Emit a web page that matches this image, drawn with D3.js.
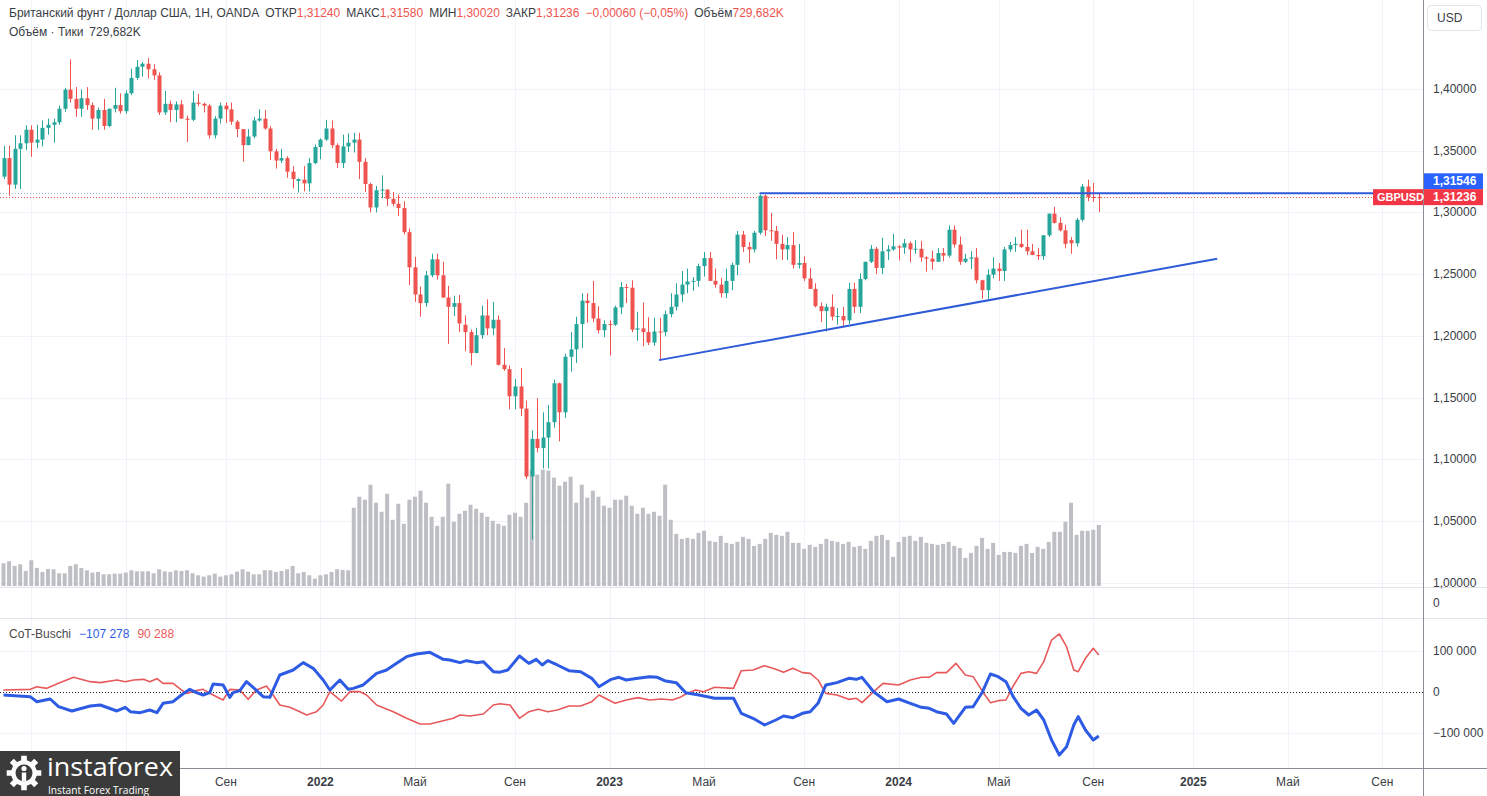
<!DOCTYPE html>
<html><head><meta charset="utf-8">
<script src="https://cdn.jsdelivr.net/npm/d3@7/dist/d3.min.js"></script>
<style>
html,body{margin:0;padding:0;background:#fff;overflow:hidden;}
svg{display:block;font-family:"Liberation Sans",Arial,sans-serif;}
</style></head><body>
<svg id="chart" width="1487" height="796"></svg>
<script>
// ---------------- DATA ----------------
const firstWeek = "2020-11-30"; // Monday of first weekly bar
const opens = [
1.3290,1.3440,1.3225,1.3515,1.3560,1.3670,1.3565,1.3590,1.3685,1.3710,
1.3730,1.3840,1.3995,1.3920,1.3840,1.3925,1.3870,1.3760,1.3830,1.3700,
1.3840,1.3870,1.3820,1.3965,1.4090,1.4180,1.4205,1.4160,1.4110,1.3810,
1.3880,1.3830,1.3875,1.3760,1.3750,1.3890,1.3880,1.3865,1.3625,1.3760,
1.3865,1.3835,1.3735,1.3675,1.3545,1.3615,1.3745,1.3760,1.3680,1.3495,
1.3420,1.3440,1.3330,1.3255,1.3265,1.3235,1.3400,1.3530,1.3590,1.3680,
1.3545,1.3400,1.3535,1.3565,1.3590,1.3410,1.3230,1.3040,1.3180,1.3185,
1.3110,1.3070,1.3035,1.2840,1.2555,1.2335,1.2265,1.2490,1.2620,1.2490,
1.2310,1.2235,1.2265,1.2090,1.2030,1.1860,1.2005,1.2165,1.2060,1.2130,
1.1765,1.1730,1.1510,1.1590,1.1410,1.0860,1.1165,1.1090,1.1175,1.1300,
1.1615,1.1380,1.1830,1.1890,1.2095,1.2285,1.2265,1.2140,1.2045,1.2095,
1.2090,1.2230,1.2395,1.2390,1.2050,1.2060,1.2030,1.1945,1.2035,1.2030,
1.2175,1.2235,1.2335,1.2415,1.2440,1.2445,1.2565,1.2630,1.2445,1.2415,
1.2345,1.2445,1.2575,1.2820,1.2720,1.2700,1.2835,1.3135,1.2855,1.2850,
1.2745,1.2700,1.2735,1.2575,1.2590,1.2465,1.2380,1.2240,1.2200,1.2235,
1.2155,1.2160,1.2125,1.2380,1.2235,1.2460,1.2600,1.2705,1.2550,1.2685,
1.2700,1.2725,1.2715,1.2750,1.2700,1.2705,1.2635,1.2625,1.2600,1.2670,
1.2650,1.2860,1.2740,1.2600,1.2625,1.2635,1.2450,1.2370,1.2495,1.2545,
1.2525,1.2700,1.2735,1.2745,1.2720,1.2685,1.2655,1.2645,1.2815,1.2990,
1.2915,1.2855,1.2775,1.2750,1.2940,1.3210,1.3125,1.3124];
const highs = [
1.3540,1.3540,1.3625,1.3625,1.3705,1.3705,1.3710,1.3745,1.3760,1.3760,
1.3865,1.4010,1.4240,1.4015,1.3995,1.4015,1.3890,1.3850,1.3920,1.3840,
1.4010,1.3965,1.3990,1.4165,1.4235,1.4220,1.4250,1.4200,1.4135,1.3985,
1.3905,1.3900,1.3910,1.3785,1.3985,1.3960,1.3890,1.3880,1.3780,1.3890,
1.3890,1.3890,1.3750,1.3675,1.3675,1.3775,1.3835,1.3830,1.3700,1.3515,
1.3515,1.3455,1.3375,1.3275,1.3375,1.3440,1.3550,1.3600,1.3750,1.3745,
1.3560,1.3630,1.3640,1.3645,1.3645,1.3440,1.3240,1.3215,1.3300,1.3185,
1.3165,1.3145,1.3090,1.2870,1.2640,1.2400,1.2525,1.2665,1.2665,1.2600,
1.2405,1.2325,1.2330,1.2165,1.2050,1.2065,1.2245,1.2295,1.2275,1.2165,
1.1900,1.1760,1.1650,1.1740,1.1475,1.1235,1.1495,1.1380,1.1440,1.1645,
1.1620,1.1855,1.2030,1.2155,1.2345,1.2345,1.2445,1.2240,1.2125,1.2125,
1.2245,1.2435,1.2420,1.2450,1.2195,1.2270,1.2150,1.2145,1.2145,1.2205,
1.2345,1.2425,1.2525,1.2545,1.2475,1.2585,1.2680,1.2680,1.2545,1.2470,
1.2545,1.2595,1.2850,1.2850,1.2760,1.2850,1.3145,1.3145,1.2995,1.2890,
1.2820,1.2800,1.2840,1.2745,1.2645,1.2550,1.2425,1.2270,1.2260,1.2335,
1.2225,1.2235,1.2430,1.2430,1.2505,1.2600,1.2735,1.2720,1.2795,1.2735,
1.2825,1.2735,1.2785,1.2765,1.2775,1.2770,1.2645,1.2690,1.2710,1.2710,
1.2895,1.2895,1.2805,1.2665,1.2685,1.2710,1.2455,1.2540,1.2635,1.2590,
1.2720,1.2760,1.2800,1.2860,1.2860,1.2745,1.2710,1.2815,1.2990,1.3045,
1.2960,1.2900,1.2800,1.2955,1.3230,1.3265,1.3240,1.3158];
const lows = [
1.3270,1.3135,1.3190,1.3190,1.3505,1.3450,1.3520,1.3535,1.3630,1.3565,
1.3710,1.3815,1.3890,1.3775,1.3775,1.3830,1.3670,1.3670,1.3670,1.3690,
1.3810,1.3800,1.3800,1.3950,1.4075,1.4100,1.4085,1.4075,1.3790,1.3790,
1.3730,1.3730,1.3760,1.3570,1.3740,1.3860,1.3810,1.3600,1.3600,1.3720,
1.3725,1.3710,1.3610,1.3410,1.3545,1.3600,1.3735,1.3670,1.3425,1.3355,
1.3400,1.3280,1.3195,1.3160,1.3170,1.3170,1.3390,1.3430,1.3580,1.3520,
1.3360,1.3360,1.3490,1.3485,1.3270,1.3165,1.3000,1.3000,1.3115,1.3050,
1.3050,1.2970,1.2820,1.2410,1.2275,1.2155,1.2235,1.2475,1.2455,1.2310,
1.1935,1.2160,1.2030,1.1875,1.1760,1.1860,1.1975,1.2005,1.2005,1.1760,
1.1715,1.1405,1.1405,1.1350,1.0840,1.0350,1.1055,1.0925,1.0925,1.1255,
1.1145,1.1335,1.1710,1.1780,1.1900,1.2105,1.2110,1.2020,1.1990,1.1840,
1.2080,1.2175,1.2265,1.2030,1.1960,1.1915,1.1925,1.1920,1.1800,1.1995,
1.2150,1.2205,1.2275,1.2345,1.2365,1.2400,1.2480,1.2445,1.2390,1.2310,
1.2305,1.2370,1.2490,1.2680,1.2590,1.2675,1.2820,1.2810,1.2770,1.2620,
1.2615,1.2615,1.2545,1.2545,1.2445,1.2380,1.2230,1.2110,1.2035,1.2125,
1.2090,1.2070,1.2095,1.2185,1.2185,1.2450,1.2590,1.2500,1.2500,1.2615,
1.2690,1.2610,1.2665,1.2595,1.2665,1.2600,1.2520,1.2535,1.2600,1.2605,
1.2635,1.2715,1.2575,1.2590,1.2540,1.2425,1.2300,1.2300,1.2465,1.2445,
1.2445,1.2680,1.2680,1.2710,1.2655,1.2655,1.2615,1.2615,1.2800,1.2910,
1.2845,1.2710,1.2665,1.2725,1.2925,1.3090,1.3085,1.3002];
const closes = [
1.3440,1.3225,1.3515,1.3560,1.3670,1.3565,1.3590,1.3685,1.3710,1.3730,
1.3840,1.3995,1.3920,1.3840,1.3925,1.3870,1.3760,1.3830,1.3700,1.3840,
1.3870,1.3820,1.3965,1.4090,1.4180,1.4205,1.4160,1.4110,1.3810,1.3880,
1.3830,1.3875,1.3760,1.3750,1.3890,1.3880,1.3865,1.3625,1.3760,1.3865,
1.3835,1.3735,1.3675,1.3545,1.3615,1.3745,1.3760,1.3680,1.3495,1.3420,
1.3440,1.3330,1.3270,1.3270,1.3235,1.3400,1.3530,1.3590,1.3680,1.3545,
1.3400,1.3535,1.3565,1.3590,1.3410,1.3230,1.3040,1.3180,1.3185,1.3110,
1.3070,1.3035,1.2840,1.2555,1.2335,1.2265,1.2490,1.2620,1.2490,1.2310,
1.2235,1.2265,1.2100,1.2030,1.1860,1.2005,1.2165,1.2060,1.2130,1.1765,
1.1730,1.1510,1.1590,1.1410,1.0860,1.1165,1.1090,1.1175,1.1300,1.1615,
1.1380,1.1830,1.1890,1.2095,1.2285,1.2265,1.2140,1.2045,1.2095,1.2090,
1.2230,1.2395,1.2390,1.2050,1.2060,1.2030,1.1945,1.2035,1.2030,1.2175,
1.2235,1.2335,1.2415,1.2440,1.2445,1.2565,1.2630,1.2445,1.2415,1.2345,
1.2445,1.2575,1.2820,1.2720,1.2700,1.2835,1.3135,1.2855,1.2850,1.2745,
1.2700,1.2735,1.2575,1.2590,1.2465,1.2380,1.2240,1.2200,1.2235,1.2155,
1.2160,1.2125,1.2380,1.2235,1.2460,1.2600,1.2705,1.2550,1.2685,1.2700,
1.2725,1.2715,1.2750,1.2700,1.2705,1.2635,1.2625,1.2600,1.2670,1.2650,
1.2860,1.2740,1.2600,1.2625,1.2635,1.2450,1.2370,1.2495,1.2545,1.2525,
1.2700,1.2735,1.2745,1.2720,1.2685,1.2655,1.2645,1.2815,1.2990,1.2915,
1.2855,1.2745,1.2750,1.2940,1.3210,1.3125,1.3120,1.31236];
// weekly tick volume, thousands of ticks
const volumes = [
272,296,240,260,180,308,216,168,204,200,152,152,240,260,216,188,160,168,140,140,
148,148,160,188,176,176,176,152,200,176,168,188,180,188,152,128,112,128,148,112,
128,140,172,200,172,140,140,188,188,168,180,200,240,152,168,128,88,128,140,168,
200,192,188,
936,1068,1032,1212,996,888,1104,792,984,744,1032,1068,1140,996,828,720,828,1224,768,864,
900,972,924,876,828,780,744,720,852,876,828,996,1392,1332,1392,1380,1296,1200,1248,1308,
996,1212,1056,1140,1068,960,936,1032,1032,1080,960,864,936,864,888,840,
1212,792,624,564,576,564,636,660,540,528,600,516,504,528,588,564,480,504,564,636,
612,600,648,516,516,444,492,468,504,564,540,528,504,528,468,480,444,540,600,612,
552,348,528,588,600,540,588,516,504,492,504,528,480,456,336,396,480,576,444,516,
372,408,408,396,480,504,396,468,444,528,648,648,768,996,612,660,660,672,729.682];
// CoT-Buschi indicator, [week number, value in thousands]
const cotBlue = [[0,-7.3],[4.8,-11.4],[6.0,-23.6],[8.4,-17.1],[9.9,-35.8],[12.3,-46.3],[15.6,-34.1],[17.4,-31.7],[20.4,-46.3],[21.9,-37.4],[22.8,-48.0],[24.6,-50.4],[26.3,-43.9],[27.6,-50.4],[28.7,-27.6],[30.5,-23.6],[32.0,-7.3],[33.5,6.5],[34.7,-1.6],[35.9,-7.3],[37.1,-1.6],[37.7,19.5],[39.5,17.1],[40.7,-13.0],[41.3,-1.6],[42.5,3.3],[43.7,25.2],[44.9,11.4],[46.7,-11.4],[47.9,-13.0],[49.7,41.5],[52.1,53.7],[53.9,71.6],[55.7,57.7],[57.5,29.3],[58.7,4.9],[60.5,29.3],[62.0,6.5],[62.9,8.9],[64.7,17.1],[67.1,45.5],[68.9,53.7],[70.7,69.9],[72.5,86.2],[74.3,92.7],[76.7,96.7],[79.1,79.7],[80.3,78.0],[82.1,71.6],[83.3,76.4],[85.1,71.6],[86.3,74.0],[88.1,49.6],[89.3,48.4],[90.7,53.7],[92.8,87.8],[94.5,69.9],[95.8,79.7],[96.9,65.9],[97.9,76.4],[99.6,65.9],[101.7,52.0],[103.8,49.6],[105.8,33.3],[107.1,13.0],[109.3,30.9],[110.7,35.8],[112.0,29.3],[114.1,33.3],[116.2,37.4],[117.6,35.8],[118.9,27.6],[121.0,22.8],[122.7,-1.6],[125.1,-7.3],[127.9,-15.4],[131.3,-15.4],[132.7,-52.0],[134.8,-64.2],[136.9,-80.5],[138.9,-68.3],[140.3,-58.5],[142.0,-62.6],[143.7,-52.0],[145.1,-48.0],[146.5,-27.6],[147.9,17.1],[149.9,22.8],[152.0,33.3],[153.4,30.9],[154.4,35.8],[156.5,0.7],[158.9,-23.6],[161.0,-17.1],[163.1,-27.6],[165.1,-37.4],[166.5,-39.8],[167.8,-48.0],[169.6,-53.7],[170.9,-76.4],[173.0,-37.4],[174.4,-35.8],[176.1,0.7],[177.5,43.9],[178.9,37.4],[180.3,25.2],[181.6,-11.4],[183.0,-39.8],[184.4,-56.1],[185.8,-43.9],[187.1,-68.3],[188.5,-117.1],[189.9,-153.7],[191.2,-133.4],[192.5,-80.5],[193.3,-60.2],[194.6,-92.7],[196.0,-117.1],[197,-107.278]];
const cotRed = [[0,4.9],[4.8,6.5],[6.0,13.0],[7.8,8.9],[9.9,21.1],[12.6,35.8],[15.6,25.2],[17.4,22.8],[20.4,29.3],[21.9,25.2],[23.4,29.3],[25.2,30.9],[26.3,25.2],[27.6,32.5],[28.7,21.1],[30.5,21.1],[32.0,4.9],[32.9,-3.3],[34.7,3.3],[35.9,6.5],[37.7,-7.3],[39.5,-19.5],[40.7,6.5],[42.5,4.9],[44.0,-17.9],[45.5,4.9],[47.3,14.6],[48.5,-7.3],[49.7,-31.7],[51.5,-37.4],[53.3,-48.0],[54.5,-56.1],[56.3,-48.0],[57.5,-31.7],[58.7,0.8],[60.8,-22.0],[62.3,0.8],[64.1,0.8],[65.3,-7.3],[67.1,-31.7],[70.1,-48.0],[72.5,-64.2],[74.9,-78.0],[76.7,-78.0],[79.1,-70.0],[80.9,-64.2],[82.1,-56.1],[83.9,-58.5],[86.3,-53.7],[88.1,-31.7],[89.3,-28.5],[91.1,-31.7],[92.8,-64.2],[94.5,-48.0],[96.2,-42.3],[97.9,-48.0],[99.6,-43.9],[101.7,-34.1],[103.8,-34.1],[105.8,-23.6],[107.1,-7.3],[110.0,-27.6],[112.0,-19.5],[114.1,-13.8],[116.2,-19.5],[118.3,-17.1],[120.3,-19.5],[121.7,-13.0],[122.7,-4.9],[124.5,4.9],[125.9,0.8],[127.9,11.4],[131.3,8.9],[132.7,52.0],[134.8,53.7],[136.9,64.2],[138.9,55.3],[140.3,48.0],[142.0,57.8],[143.7,47.2],[145.1,45.5],[146.5,29.3],[147.9,-3.3],[149.9,-7.3],[152.0,-17.9],[153.4,-15.4],[154.4,-26.0],[156.5,0.8],[158.2,21.1],[161.0,17.1],[163.1,29.3],[165.1,35.8],[166.5,35.8],[167.8,47.2],[169.6,47.2],[171.3,69.9],[173.0,41.5],[174.4,37.4],[176.1,0.8],[177.5,-26.0],[178.9,-21.1],[180.3,-19.5],[181.6,14.6],[183.0,45.5],[184.4,49.6],[185.8,45.5],[187.1,73.9],[188.5,126.8],[189.9,141.5],[191.2,110.5],[192.5,53.7],[193.3,49.6],[194.6,82.1],[196.0,106.6],[197,90.288]];
// drawn support / resistance lines [week number, price]
const supportLine = [[117.9,1.1803],[218.3,1.2625]];
const resistLine = [[136,1.31546],[260,1.31546]];
const lastPrice = 1.31236;
const resistPrice = 1.31546;
const priceTicks = [1.00,1.05,1.10,1.15,1.20,1.25,1.30,1.35,1.40];
const cotTicks = [-100,0,100];
const timeTickDates = ["2021-01-04","2021-05-03","2021-09-06","2022-01-03","2022-05-02","2022-09-05","2023-01-02","2023-05-01","2023-09-04","2024-01-01","2024-05-06","2024-09-02","2025-01-06","2025-05-05","2025-09-01"];
const timeTickLabels = ["2021","Май","Сен","2022","Май","Сен","2023","Май","Сен","2024","Май","Сен","2025","Май","Сен"];
const headerParts = [["Британский фунт / Доллар США, 1Н, OANDA","g",0],["ОТКР","g",6],["1,31240","r",0],["МАКС","g",6],["1,31580","r",0],["МИН","g",6],["1,30020","r",0],["ЗАКР","g",6],["1,31236","r",0],["−0,00060 (−0,05%)","r",6],["Объём","g",6],["729,682K","r",0]];

// ---------------- LAYOUT ----------------
const W = 1487, H = 796, plotR = 1423;
const UP = "#26a69a", DN = "#ef5350", GRID = "#f0f3fa", TXT = "#131722";
const svg = d3.select("#chart");
const weekOf = s => (Date.parse(s) - Date.parse(firstWeek)) / (7*864e5);

const x = d3.scaleLinear().domain([0, 197]).range([3.5, 1098.8]);
const yP = d3.scaleLinear().domain([1.0, 1.4]).range([582.6, 89]);
const yV = d3.scaleLinear().domain([0, 729.682]).range([586, 525]);
const yC = d3.scaleLinear().domain([-100, 100]).range([733, 651]);

svg.append("rect").attr("width", W).attr("height", H).attr("fill", "#fff");
const defs = svg.append("defs");
defs.append("clipPath").attr("id", "cp").append("rect").attr("x",0).attr("y",0).attr("width",plotR).attr("height",587);
defs.append("clipPath").attr("id", "cc").append("rect").attr("x",0).attr("y",618).attr("width",plotR).attr("height",150);

// grid
const grid = svg.append("g");
const tickX = timeTickDates.map(weekOf);
grid.selectAll("line.v").data(tickX).join("line")
  .attr("x1", d => Math.round(x(d))+0.5).attr("x2", d => Math.round(x(d))+0.5)
  .attr("y1", 0).attr("y2", 768).attr("stroke", GRID).attr("stroke-width", 1);
grid.selectAll("line.h").data(priceTicks).join("line")
  .attr("x1", 0).attr("x2", plotR).attr("y1", d => Math.round(yP(d))+0.5).attr("y2", d => Math.round(yP(d))+0.5)
  .attr("stroke", GRID);
grid.selectAll("line.c").data(cotTicks.filter(d=>d!==0)).join("line")
  .attr("x1", 0).attr("x2", plotR).attr("y1", d => Math.round(yC(d))+0.5).attr("y2", d => Math.round(yC(d))+0.5)
  .attr("stroke", GRID);

// price pane
const pp = svg.append("g").attr("clip-path", "url(#cp)");
const idx = d3.range(closes.length);
pp.selectAll("rect.vol").data(idx).join("rect")
  .attr("x", i => x(i) - 2).attr("width", 4)
  .attr("y", i => yV(volumes[i])).attr("height", i => yV(0) - yV(volumes[i]))
  .attr("fill", "#bdbfc4");

// dotted price lines
pp.append("line").attr("x1",0).attr("x2",plotR).attr("y1",Math.round(yP(resistPrice))+0.5).attr("y2",Math.round(yP(resistPrice))+0.5)
  .attr("stroke","#b2b5be").attr("stroke-dasharray","1,2");
pp.append("line").attr("x1",0).attr("x2",plotR).attr("y1",Math.round(yP(lastPrice))+0.5).attr("y2",Math.round(yP(lastPrice))+0.5)
  .attr("stroke",DN).attr("stroke-dasharray","1,2");

const cg = pp.append("g");
cg.selectAll("line.wick").data(idx).join("line")
  .attr("x1", i => Math.round(x(i))+0.5).attr("x2", i => Math.round(x(i))+0.5)
  .attr("y1", i => yP(highs[i])).attr("y2", i => yP(lows[i]))
  .attr("stroke", i => closes[i] >= opens[i] ? UP : DN).attr("stroke-width", 1);
cg.selectAll("rect.body").data(idx).join("rect")
  .attr("x", i => Math.round(x(i)) - 1.5).attr("width", 4)
  .attr("y", i => yP(Math.max(opens[i], closes[i])))
  .attr("height", i => Math.max(1, Math.abs(yP(opens[i]) - yP(closes[i]))))
  .attr("fill", i => closes[i] >= opens[i] ? UP : DN);

// drawn lines
const lineP = d3.line().x(d => x(d[0])).y(d => yP(d[1]));
pp.append("path").attr("d", lineP(resistLine)).attr("fill","none").attr("stroke","#2f5bd8").attr("stroke-width",2);
pp.append("path").attr("d", lineP(supportLine)).attr("fill","none").attr("stroke","#2f5bd8").attr("stroke-width",2);

// pane separators
svg.append("line").attr("x1",0).attr("x2",W).attr("y1",587.5).attr("y2",587.5).attr("stroke","#e0e3eb");
svg.append("line").attr("x1",0).attr("x2",W).attr("y1",618.5).attr("y2",618.5).attr("stroke","#e0e3eb");

// CoT pane
const cp = svg.append("g").attr("clip-path","url(#cc)");
cp.append("line").attr("x1",0).attr("x2",plotR).attr("y1",Math.round(yC(0))+0.5).attr("y2",Math.round(yC(0))+0.5)
  .attr("stroke","#222").attr("stroke-dasharray","1,2");
const lineC = d3.line().x(d => x(d[0])).y(d => yC(d[1]));
cp.append("path").attr("d", lineC(cotRed)).attr("fill","none").attr("stroke","#e8595b").attr("stroke-width",1.6).attr("stroke-linejoin","round");
cp.append("path").attr("d", lineC(cotBlue)).attr("fill","none").attr("stroke","#2d5be3").attr("stroke-width",3).attr("stroke-linejoin","round");

const fmtK = v => (v*1000 === 0 ? "0" : d3.format(",")(v*1000).replace(/,/g," ").replace("-","−"));
const leg = svg.append("text").attr("x",9).attr("y",638).attr("font-size",12).attr("fill",TXT);
leg.append("tspan").text("CoT-Buschi").attr("fill","#4a4a4a");
leg.append("tspan").attr("dx",8).text(fmtK(Math.round(cotBlue[cotBlue.length-1][1]*1000)/1000)).attr("fill","#2d5be3");
leg.append("tspan").attr("dx",8).text(fmtK(Math.round(cotRed[cotRed.length-1][1]*1000)/1000)).attr("fill","#e8595b");

// axis borders
svg.append("line").attr("x1",plotR+0.5).attr("x2",plotR+0.5).attr("y1",0).attr("y2",H).attr("stroke","#8a8d96");
svg.append("line").attr("x1",0).attr("x2",W).attr("y1",768.5).attr("y2",768.5).attr("stroke","#8a8d96");

// right price axis
const ra = svg.append("g").attr("font-size",12).attr("fill","#3a3d45");
ra.selectAll("text.p").data(priceTicks).join("text")
  .attr("x",1433).attr("y", d => yP(d)+4).text(d => d3.format(".5f")(d).replace(".", ","));
ra.append("text").attr("x",1433).attr("y",607).text("0");
ra.selectAll("text.c").data(cotTicks).join("text")
  .attr("x",1433).attr("y", d => yC(d)+4).text(d => fmtK(d));

// USD box
svg.append("rect").attr("x",1427.5).attr("y",5.5).attr("width",54).attr("height",25).attr("rx",4)
  .attr("fill","#fff").attr("stroke","#e0e3eb");
svg.append("text").attr("x",1437).attr("y",22).attr("font-size",12).attr("fill","#3a3d45").text("USD");

// price labels
const yR = yP(resistPrice), yL = yP(lastPrice);
svg.append("rect").attr("x",1424).attr("y",yR-20).attr("width",59).attr("height",16).attr("fill","#2962ff");
svg.append("text").attr("x",1433).attr("y",yR-8).attr("font-size",12).attr("font-weight","bold").attr("fill","#fff")
  .text(d3.format(".5f")(resistPrice).replace(".", ","));
svg.append("rect").attr("x",1424).attr("y",yL-8).attr("width",59).attr("height",16).attr("fill","#f23645");
svg.append("text").attr("x",1433).attr("y",yL+4).attr("font-size",12).attr("font-weight","bold").attr("fill","#fff")
  .text(d3.format(".5f")(lastPrice).replace(".", ","));
svg.append("rect").attr("x",1373).attr("y",yL-8).attr("width",50).attr("height",16).attr("fill","#f23645");
svg.append("text").attr("x",1377).attr("y",yL+4).attr("font-size",11).attr("font-weight","bold").attr("fill","#fff").text("GBPUSD");

// time axis (labels under the logo box are hidden in the reference)
const logoW = 180;
svg.append("g").attr("font-size",12).attr("fill","#3a3d45").attr("text-anchor","middle")
  .selectAll("text").data(timeTickLabels.map((t,i)=>({t, px:x(tickX[i])})).filter(d => d.px > logoW + 15)).join("text")
  .attr("x", d => d.px).attr("y",786)
  .attr("font-weight", d => /^\d+$/.test(d.t) ? "bold" : "normal")
  .text(d => d.t);

// header
const hd = svg.append("text").attr("x",9).attr("y",17).attr("font-size",12);
headerParts.forEach(p => hd.append("tspan").attr("dx", p[2]).text(p[0]).attr("fill", p[1]==="r" ? "#ef5350" : "#3a3d45"));
const hd2 = svg.append("text").attr("x",9).attr("y",36).attr("font-size",12).attr("fill","#3a3d45");
hd2.append("tspan").text("Объём · Тики");
hd2.append("tspan").attr("dx",6).text("729,682K");

// logo
const lg = svg.append("g");
lg.append("rect").attr("x",0).attr("y",751).attr("width",logoW).attr("height",45).attr("fill","#3b3b3b");
const cx = 24, cy = 773;
const gearPts = [];
for (let t = 0; t < 8; t++) {
  const a = t * Math.PI / 4;
  [[-0.22,13],[-0.16,17.5],[0.16,17.5],[0.22,13]].forEach(([da,r]) => gearPts.push([cx + r*Math.cos(a+da), cy + r*Math.sin(a+da)]));
}
lg.append("path").attr("d", d3.line()(gearPts) + "Z").attr("fill","#fff");
lg.append("circle").attr("cx",cx).attr("cy",cy).attr("r",8.5).attr("fill","#3b3b3b");
lg.append("circle").attr("cx",cx).attr("cy",cy-4.5).attr("r",2.6).attr("fill","#fff");
lg.append("rect").attr("x",cx-2.2).attr("y",cy-0.5).attr("width",4.4).attr("height",9).attr("fill","#fff");
lg.append("text").attr("x",47).attr("y",776).attr("font-family","'Open Sans',sans-serif").attr("font-size",26)
  .attr("fill","#fff").attr("textLength",126).attr("lengthAdjust","spacingAndGlyphs").text("instaforex");
lg.append("text").attr("x",48).attr("y",794).attr("font-family","'Open Sans',sans-serif").attr("font-size",10)
  .attr("fill","#fff").attr("textLength",101).attr("lengthAdjust","spacingAndGlyphs").text("Instant Forex Trading");
</script>
</body></html>
